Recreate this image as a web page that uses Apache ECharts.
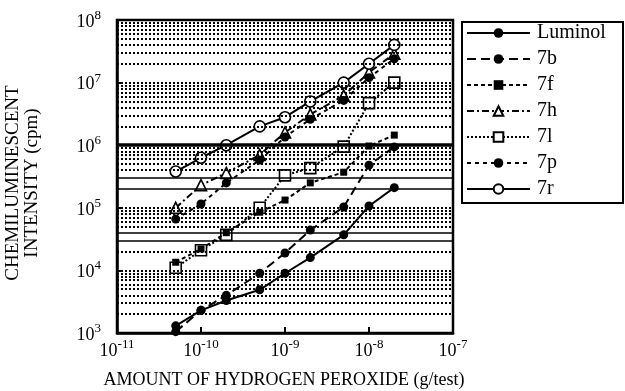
<!DOCTYPE html>
<html>
<head>
<meta charset="utf-8">
<script src="https://cdn.jsdelivr.net/npm/echarts@6/dist/echarts.min.js"></script>
<style>
  html, body { margin: 0; padding: 0; background: #fff; }
  #chart { width: 625px; height: 391px; }
</style>
</head>
<body>
<div id="chart"></div>
<script>
// Amount of H2O2 per test (g)
const amounts = [5e-11, 1e-10, 2e-10, 5e-10, 1e-9, 2e-9, 5e-9, 1e-8, 2e-8];

// Chemiluminescent intensity (cpm) per compound
const luminol = [1.3e3, 2.3e3, 3.3e3, 4.9e3, 9e3, 1.6e4, 3.7e4, 1.07e5, 2.1e5];
const c7b = [1.05e3, 2.3e3, 4e3, 9e3, 1.9e4, 4.4e4, 1.03e5, 4.8e5, 9.4e5];
const c7f = [1.35e4, 2.2e4, 4e4, 8.5e4, 1.33e5, 2.5e5, 3.7e5, 9.7e5, 1.45e6];
const c7h = [1e5, 2.3e5, 3.6e5, 7e5, 1.6e6, 3.1e6, 6.2e6, 1.45e7, 2.9e7];
const c7l = [1.1e4, 2.1e4, 3.7e4, 1e5, 3.3e5, 4.3e5, 9.5e5, 4.7e6, 1e7];
const c7p = [6.6e4, 1.15e5, 2.5e5, 5.8e5, 1.35e6, 2.6e6, 5.2e6, 1.2e7, 2.4e7];
const c7r = [3.8e5, 6.3e5, 1e6, 2e6, 2.8e6, 5e6, 1e7, 2e7, 4e7];

const seriesNames = ['Luminol', '7b', '7f', '7h', '7l', '7p', '7r'];

// Axis ranges (decade exponents)
const xDecades = [-11, -7];
const yDecades = [3, 8];

const FONT = '"Liberation Serif", "DejaVu Serif", serif';

function pairs(ys) {
  return amounts.map((x, i) => [x, ys[i]]);
}

function powLabel(v) {
  const e = Math.round(Math.log10(v));
  return '{b|10}{s|' + e + '}';
}

const richPow = {
  b: { fontSize: 18, fontFamily: FONT, color: '#000', lineHeight: 22, verticalAlign: 'bottom' },
  s: { fontSize: 13, fontFamily: FONT, color: '#000', lineHeight: 13, verticalAlign: 'top' }
};

// Horizontal reference lines: decades and the 2..9 subdivisions
const dotted = { color: '#000', width: 2, type: [2, 2] };
const hLines = [];
for (let e = yDecades[0]; e < yDecades[1]; e++) {
  for (let m = 1; m <= 9; m++) {
    const v = m * Math.pow(10, e);
    if (e === yDecades[0] && m === 1) continue;
    let style = dotted;
    if (v === 1e6) style = { color: '#000', width: 3.5, type: 'solid' };
    else if (v === 2e5 || v === 3e5 || v === 3e4 || v === 4e4) style = { color: '#000', width: 1.5, type: 'solid' };
    hLines.push({ yAxis: v, lineStyle: style });
  }
}
// Vertical reference lines at the inner decades
const vLines = [
  { xAxis: 1e-10, lineStyle: { color: '#000', width: 1.5, type: 'solid' } },
  { xAxis: 1e-9, lineStyle: dotted },
  { xAxis: 1e-8, lineStyle: dotted }
];

function lineSeries(name, ys, lineType, symbol, size, open) {
  return {
    name: name,
    type: 'line',
    data: pairs(ys),
    symbol: symbol,
    symbolSize: size,
    showAllSymbol: true,
    z: open ? 4 : 5,
    lineStyle: { color: '#000', width: 2, type: lineType },
    itemStyle: open
      ? { color: '#fff', borderColor: '#000', borderWidth: 1.6 }
      : { color: '#000', borderColor: '#000', borderWidth: 0 }
  };
}

const series = [
  {
    name: 'grid',
    type: 'line',
    data: [],
    silent: true,
    z: 1,
    markLine: {
      silent: true,
      symbol: 'none',
      label: { show: false },
      animation: false,
      data: hLines.concat(vLines)
    }
  },
  lineSeries(seriesNames[0], luminol, 'solid', 'circle', 9, false),
  lineSeries(seriesNames[1], c7b, [9, 5], 'circle', 9, false),
  lineSeries(seriesNames[2], c7f, [4, 3], 'rect', 7, false),
  lineSeries(seriesNames[3], c7h, [7, 3, 2, 3], 'triangle', 11, true),
  lineSeries(seriesNames[4], c7l, [2, 2], 'rect', 11, true),
  lineSeries(seriesNames[5], c7p, [4, 4], 'circle', 9, false),
  lineSeries(seriesNames[6], c7r, 'solid', 'circle', 11, true)
];

const chart = echarts.init(document.getElementById('chart'), null, { renderer: 'canvas' });
chart.setOption({
  animation: false,
  backgroundColor: '#fff',
  grid: {
    left: 117, right: 172, top: 20, bottom: 58,
    show: true, borderColor: '#000', borderWidth: 2.5, backgroundColor: 'transparent', z: 6
  },
  xAxis: {
    type: 'log',
    logBase: 10,
    min: Math.pow(10, xDecades[0]),
    max: Math.pow(10, xDecades[1]),
    axisLine: { show: true, lineStyle: { color: '#000', width: 2.5 } },
    axisTick: { show: true, inside: true, length: 6, lineStyle: { color: '#000', width: 2 } },
    splitLine: { show: false },
    axisLabel: { formatter: powLabel, rich: richPow, margin: 5 }
  },
  yAxis: {
    type: 'log',
    logBase: 10,
    min: Math.pow(10, yDecades[0]),
    max: Math.pow(10, yDecades[1]),
    axisLine: { show: true, lineStyle: { color: '#000', width: 2.5 } },
    axisTick: { show: true, inside: true, length: 6, lineStyle: { color: '#000', width: 2 } },
    splitLine: { show: false },
    axisLabel: { formatter: powLabel, rich: richPow, margin: 16 }
  },
  legend: {
    data: seriesNames,
    orient: 'vertical',
    left: 466,
    top: 23,
    itemWidth: 63,
    itemHeight: 12,
    itemGap: 6,
    padding: 0,
    textStyle: { fontFamily: FONT, fontSize: 20, color: '#000', lineHeight: 20, padding: [0, 0, 0, 2] }
  },
  graphic: [
    {
      type: 'rect',
      shape: { x: 462, y: 22, width: 161, height: 181 },
      style: { fill: 'none', stroke: '#000', lineWidth: 2 },
      silent: true
    },
    {
      type: 'text',
      x: 23, y: 183,
      rotation: Math.PI / 2,
      style: {
        text: 'CHEMILUMINESCENT\nINTENSITY (cpm)',
        fontFamily: FONT, fontSize: 19, lineHeight: 19,
        fill: '#000', align: 'center', verticalAlign: 'middle'
      }
    },
    {
      type: 'text',
      x: 284, y: 380,
      style: {
        text: 'AMOUNT OF HYDROGEN PEROXIDE (g/test)',
        fontFamily: FONT, fontSize: 18,
        fill: '#000', align: 'center', verticalAlign: 'middle'
      }
    }
  ],
  series: series
});
</script>
</body>
</html>
